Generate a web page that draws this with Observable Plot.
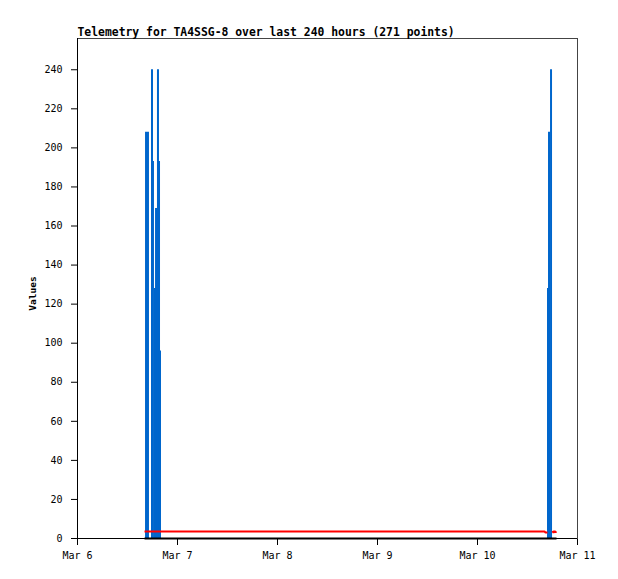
<!DOCTYPE html>
<html><head><meta charset="utf-8">
<script src="https://cdn.jsdelivr.net/npm/d3@7"></script>
<script src="https://cdn.jsdelivr.net/npm/@observablehq/plot@0.6"></script>
<style>html,body{margin:0;padding:0;background:#fff}</style>
</head><body><div id="chart"></div>
<script>
const titleText = "Telemetry for TA4SSG-8 over last 240 hours (271 points)";
const yLabel = "Values";
const xDomain = ["2024-03-06T00:00Z", "2024-03-11T00:00Z"];
const xTickDates = ["2024-03-06T00:00Z","2024-03-07T00:00Z","2024-03-08T00:00Z","2024-03-09T00:00Z","2024-03-10T00:00Z","2024-03-11T00:00Z"];
const xTickLabels = ["Mar 6","Mar 7","Mar 8","Mar 9","Mar 10","Mar 11"];
const yDomain = [0, 256];
const yTicks = [0,20,40,60,80,100,120,140,160,180,200,220,240];

// blue series (impulses)
const blueTimes = ["2024-03-06T16:34Z","2024-03-06T17:02Z","2024-03-06T18:00Z","2024-03-06T18:14Z","2024-03-06T18:43Z","2024-03-06T18:58Z","2024-03-06T19:26Z","2024-03-06T19:41Z","2024-03-06T19:55Z","2024-03-10T17:02Z","2024-03-10T17:17Z","2024-03-10T17:46Z"];
const blueValues = [208,208,240,193,128,169,240,193,96,128,208,240];

// red series (line)
const redTimes = ["2024-03-06T16:05Z","2024-03-10T16:05Z","2024-03-10T16:19Z","2024-03-10T16:48Z","2024-03-10T17:17Z","2024-03-10T18:00Z","2024-03-10T18:14Z","2024-03-10T18:29Z","2024-03-10T18:43Z","2024-03-10T18:58Z"];
const redValues = [3.6,3.6,3.1,3.1,NaN,3.8,3.0,3.8,3.2,3.6];

// black series (zero line)
const zeroTimes = ["2024-03-06T16:05Z","2024-03-10T18:58Z"];
const zeroValues = [0,0];

const blue = blueTimes.map((t,i)=>({t:new Date(t), v:blueValues[i]}));
const red = redTimes.map((t,i)=>({t:new Date(t), v:redValues[i]}));
const zero = zeroTimes.map((t,i)=>({t:new Date(t), v:zeroValues[i]}));
const xd = xDomain.map(d=>new Date(d));
const xt = xTickDates.map(d=>new Date(d));

const chart = Plot.plot({
  width: 618,
  height: 579,
  marginLeft: 77,
  marginRight: 41,
  marginTop: 38,
  marginBottom: 41,
  style: {fontFamily: "'DejaVu Sans Mono', monospace", fontSize: "10px", color: "#000", background: "#fff"},
  x: {type: "utc", domain: xd, ticks: xt, tickFormat: (d,i)=>xTickLabels[i], tickSize: 7, tickPadding: 6, label: null},
  y: {domain: yDomain, ticks: yTicks, tickSize: 6, tickPadding: 9, label: null},
  marks: [
    Plot.frame({stroke: "#444"}),
    Plot.ruleX(blue, {x: "t", y1: 0, y2: "v", stroke: "#0066cc", strokeWidth: 2, dx: -0.5}),
    Plot.line(zero, {x: "t", y: "v", stroke: "#000", strokeWidth: 2, strokeLinecap: "butt"}),
    Plot.line(red, {x: "t", y: "v", stroke: "#ff0000", strokeWidth: 2, strokeLinecap: "butt", strokeLinejoin: "miter"}),
    Plot.ruleY([yDomain[0]], {stroke: "#000"}),
    Plot.ruleX([xd[0]], {stroke: "#000"}),
    Plot.text([titleText], {frameAnchor: "top-left", textAnchor: "start", lineAnchor: "bottom", dy: -3, fontWeight: "bold", fontSize: 11.4}),
    Plot.text([yLabel], {frameAnchor: "left", textAnchor: "middle", rotate: -90, dx: -44.5, dy: 5, fontWeight: "bold", fontSize: 9.5})
  ]
});
document.getElementById("chart").appendChild(chart);
</script>
</body></html>
